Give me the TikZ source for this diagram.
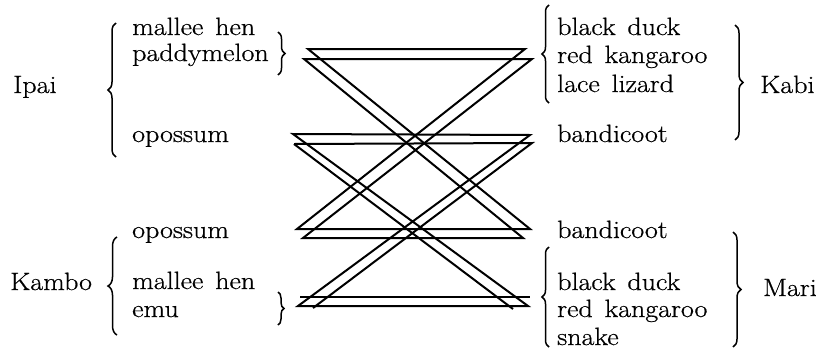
\documentclass[tikz,border=0pt]{standalone}
\usepackage{fontspec}
\newfontfamily\scanfont{Latin Modern Roman}[FakeStretch=1.12, FakeBold=0.7, WordSpace=1.4]
\usetikzlibrary{decorations.pathreplacing}
\begin{document}
\begin{tikzpicture}[x=1pt,y=-1pt,
  lbl/.style={anchor=base west, inner sep=0pt, font=\scanfont\fontsize{25}{29}\selectfont},
  brc/.style={decorate, decoration={brace, amplitude=#1}, line width=1.5pt},
  brc/.default=8pt,
  band/.style={line width=2pt, line join=miter, miter limit=20}]
\useasboundingbox (0,0) rectangle (829,351);

% left column
\node[lbl] (ipai) at (13,93) {Ipai};
\node[lbl] (ipaiA) at (132,35) {mallee hen};
\node[lbl] (ipaiB) at (132,61) {paddymelon};
\node[lbl] (ipaiC) at (132,142) {opossum};
\node[lbl] (kambo) at (10,290) {Kambo};
\node[lbl] (kamboA) at (132,238) {opossum};
\node[lbl] (kamboB) at (132,289) {mallee hen};
\node[lbl] (kamboC) at (132,317) {emu};

% right column
\node[lbl] (kabiA) at (557,35) {black duck};
\node[lbl] (kabiB) at (557,63) {red kangaroo};
\node[lbl] (kabiC) at (557,92) {lace lizard};
\node[lbl] (kabiD) at (557,142) {bandicoot};
\node[lbl] (kabi) at (760,93) {Kabi};
\node[lbl] (mariA) at (557,238) {bandicoot};
\node[lbl] (mariB) at (557,290) {black duck};
\node[lbl] (mariC) at (557,317) {red kangaroo};
\node[lbl] (mariD) at (557,345) {snake};
\node[lbl] (mari) at (763,296) {Mari};

% braces
\draw[brc=8pt] (116,157) -- (116,23);
\draw[brc=7pt] (278,32) -- (278,75);
\draw[brc=9pt] (117,335) -- (117,237);
\draw[brc=6pt] (278,292) -- (278,325);
\draw[brc=7pt] (549,103) -- (549,5);
\draw[brc=8pt] (735,25) -- (735,140);
\draw[brc=7pt] (549,347) -- (549,247);
\draw[brc=8pt] (733,232) -- (733,347);

% corners of the crossed bands
\coordinate (h1aTL) at (308,49);  \coordinate (h1aTR) at (525,49);
\coordinate (h1aBL) at (297,229); \coordinate (h1aBR) at (530,229);
\coordinate (h1bTL) at (304,59);  \coordinate (h1bTR) at (532,59);
\coordinate (h1bBL) at (303,238); \coordinate (h1bBR) at (523,238);
\coordinate (h2aTL) at (293,134); \coordinate (h2aTR) at (530,135);
\coordinate (h2aBL) at (298,306); \coordinate (h2aBR) at (528,306);
\coordinate (h2bTL) at (294,144); \coordinate (h2bTR) at (532,143);
\coordinate (h2bBL) at (313,308); \coordinate (h2bBR) at (513,309);
\coordinate (h2cL) at (300,297);  \coordinate (h2cR) at (530,297);

\draw[band] (h1aTL) -- (h1aTR) -- (h1aBL) -- (h1aBR) -- cycle;
\draw[band] (h1bTL) -- (h1bTR) -- (h1bBL) -- (h1bBR) -- cycle;
\draw[band] (h2aTL) -- (h2aTR) -- (h2aBL) -- (h2aBR) -- cycle;
\draw[band] (h2bTL) -- (h2bTR) -- (h2bBL);
\draw[band] (h2bBR) -- (h2bTL);
\draw[band] (h2cL) -- (h2cR);
\end{tikzpicture}
\end{document}
